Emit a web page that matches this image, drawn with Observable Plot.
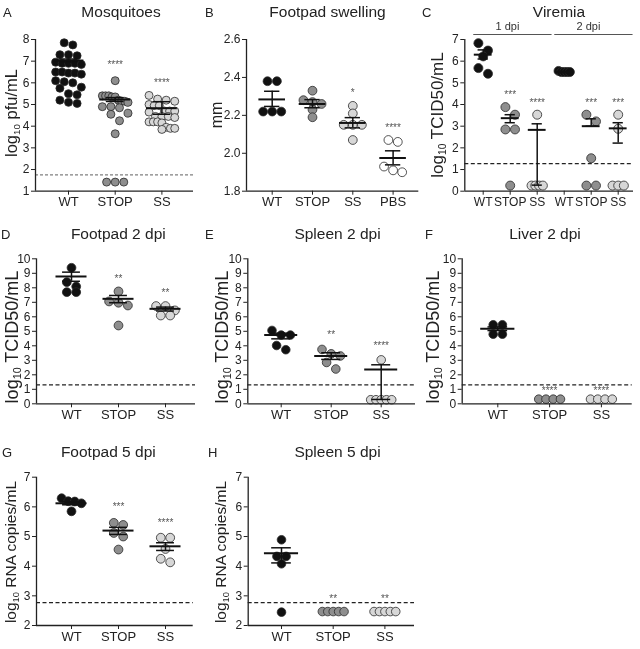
<!DOCTYPE html>
<html>
<head>
<meta charset="utf-8">
<script src="https://cdn.jsdelivr.net/npm/d3@7"></script>
<script src="https://cdn.jsdelivr.net/npm/@observablehq/plot@0.6"></script>
<style>
  body { margin: 0; background: #fff; }
  #fig { position: relative; width: 640px; height: 649px; overflow: hidden; filter: grayscale(1);
         font-family: 'Liberation Sans', Arial, Helvetica, sans-serif; color: #222; background: #fff; }
  .cell { position: absolute; }
  .cell svg { overflow: visible; }
  .title { position: absolute; transform: translate(-50%, -50%); font-size: 15.5px; line-height: 1; white-space: nowrap; }
  .letter { position: absolute; transform: translateY(-50%); font-size: 13px; line-height: 1; }
  .ylab { position: absolute; transform: translate(-50%, -50%) rotate(-90deg); white-space: nowrap; line-height: 1; }
  .ylab sub { font-size: 0.6em; vertical-align: -0.3em; line-height: 0; }
  .cell svg g[aria-label="x-axis tick label"] text,
  .cell svg g[aria-label="x-axis"] text { font-size: 13px; }
  .cell.tight svg g[aria-label="x-axis tick label"] text,
  .cell.tight svg g[aria-label="x-axis"] text { font-size: 12px; }
  .cell svg g[aria-label="y-axis tick label"] text,
  .cell svg g[aria-label="y-axis"] text { font-size: 12px; }
</style>
</head>
<body>
<div id="fig"></div>
<script>
// ---------------- DATA ----------------
// A: Mosquitoes (log10 pfu/mL)
const mosqLabels = ["WT", "STOP", "SS"];
const mosqWT = [7.85, 7.75, 7.3, 7.3, 7.25, 6.95, 6.9, 6.9, 6.85, 6.9, 6.5, 6.45, 6.45, 6.4, 6.5, 6.1, 6.0, 6.05, 5.75, 5.8, 5.5, 5.45, 5.2, 5.05, 5.1];
const mosqSTOP = [6.1, 5.4, 5.35, 5.4, 5.35, 5.4, 5.15, 5.2, 5.15, 5.1, 4.9, 4.85, 4.9, 4.6, 4.55, 4.25, 3.65, 1.42, 1.42, 1.42];
const mosqSS = [5.42, 5.25, 5.2, 5.15, 5.0, 4.95, 4.95, 4.7, 4.7, 4.65, 4.7, 4.45, 4.45, 4.45, 4.4, 4.2, 4.2, 4.15, 4.2, 3.95, 3.9, 3.85, 3.9];
const mosqMean = [7.03, 5.23, 4.83];
const mosqUpper = [7.1, 5.32, 5.13];
const mosqLower = [6.96, 5.14, 4.55];
const mosqStars = ["", "****", "****"];
const mosqStarY = [null, 6.92, 6.1];
const mosqLOD = 1.75;
const mosqTicks = [1, 2, 3, 4, 5, 6, 7, 8];

// B: Footpad swelling (mm)
const swellLabels = ["WT", "STOP", "SS", "PBS"];
const swellWT = [2.38, 2.38, 2.22, 2.22, 2.22];
const swellSTOP = [2.33, 2.28, 2.27, 2.26, 2.23, 2.19];
const swellSS = [2.25, 2.21, 2.15, 2.15, 2.15, 2.07];
const swellPBS = [2.07, 2.06, 1.93, 1.91, 1.9];
const swellMean = [2.284, 2.26, 2.16, 1.975];
const swellUpper = [2.327, 2.283, 2.188, 2.013];
const swellLower = [2.247, 2.24, 2.134, 1.939];
const swellStars = ["", "", "*", "****"];
const swellStarY = [null, null, 2.33, 2.146];
const swellTicks = [1.8, 2.0, 2.2, 2.4, 2.6];

// C: Viremia (log10 TCID50/mL), 1 dpi and 2 dpi
const viremiaLabels = ["WT", "STOP", "SS", "WT", "STOP", "SS"];
const viremiaDays = ["1 dpi", "2 dpi"];
const viremiaWT1 = [6.83, 6.49, 6.22, 5.68, 5.42];
const viremiaSTOP1 = [3.88, 3.53, 2.85, 2.85, 0.26];
const viremiaSS1 = [3.53, 0.26, 0.26, 0.26, 0.26];
const viremiaWT2 = [5.55, 5.5, 5.5, 5.5, 5.5];
const viremiaSTOP2 = [3.53, 3.22, 1.52, 0.26, 0.26];
const viremiaSS2 = [3.53, 2.88, 0.26, 0.26, 0.26];
const viremiaMean = [6.3, 3.37, 2.83, 5.5, 3.0, 2.9];
const viremiaUpper = [6.52, 3.53, 3.11, 5.53, 3.34, 3.16];
const viremiaLower = [6.1, 3.16, 0.28, 5.47, 3.0, 2.22];
const viremiaStars = ["", "***", "****", "", "***", "***"];
const viremiaStarY = [null, 4.54, 4.19, null, 4.19, 4.19];
const viremiaLOD = 1.27;
const viremiaTicks = [0, 1, 2, 3, 4, 5, 6, 7];

// D: Footpad 2 dpi (log10 TCID50/mL)
const fp2Labels = ["WT", "STOP", "SS"];
const fp2WT = [9.38, 8.39, 8.09, 7.7, 7.7];
const fp2STOP = [7.75, 7.06, 6.97, 6.78, 5.4];
const fp2SS = [6.74, 6.74, 6.44, 6.09, 6.09];
const fp2Mean = [8.78, 7.24, 6.55];
const fp2Upper = [9.08, 7.47, 6.67];
const fp2Lower = [8.45, 6.97, 6.4];
const fp2Stars = ["", "**", "**"];
const fp2StarY = [null, 8.78, 7.82];

// E: Spleen 2 dpi (log10 TCID50/mL)
const sp2Labels = ["WT", "STOP", "SS"];
const sp2WT = [5.06, 4.74, 4.74, 4.02, 3.73];
const sp2STOP = [3.75, 3.45, 3.3, 2.85, 2.4];
const sp2SS = [3.03, 0.28, 0.28, 0.28, 0.28, 0.28];
const sp2Mean = [4.74, 3.29, 2.37];
const sp2Upper = [4.87, 3.52, 2.69];
const sp2Lower = [4.48, 3.06, 0.3];
const sp2Stars = ["", "**", "****"];
const sp2StarY = [null, 4.9, 4.14];

// F: Liver 2 dpi (log10 TCID50/mL)
const lv2Labels = ["WT", "STOP", "SS"];
const lv2WT = [5.45, 5.45, 4.8, 4.8];
const lv2STOP = [0.32, 0.32, 0.32, 0.32];
const lv2SS = [0.32, 0.32, 0.32, 0.32];
const lv2Mean = [5.17, null, null];
const lv2Upper = [5.3, null, null];
const lv2Lower = [5.05, null, null];
const lv2Stars = ["", "****", "****"];
const lv2StarY = [null, 1.03, 1.03];

const tcidLOD = 1.3;
const tcidTicks = [0, 1, 2, 3, 4, 5, 6, 7, 8, 9, 10];

// G: Footpad 5 dpi (log10 RNA copies/mL)
const fp5Labels = ["WT", "STOP", "SS"];
const fp5WT = [6.29, 6.19, 6.18, 6.12, 5.85];
const fp5STOP = [5.46, 5.39, 5.12, 5.0, 4.56];
const fp5SS = [4.96, 4.96, 4.58, 4.25, 4.13];
const fp5Mean = [6.12, 5.2, 4.67];
const fp5Upper = [6.17, 5.31, 4.79];
const fp5Lower = [6.07, 5.07, 4.53];
const fp5Stars = ["", "***", "****"];
const fp5StarY = [null, 6.08, 5.54];

// H: Spleen 5 dpi (log10 RNA copies/mL)
const sp5Labels = ["WT", "STOP", "SS"];
const sp5WT = [4.89, 4.33, 4.33, 4.08, 2.45];
const sp5STOP = [2.47, 2.47, 2.47, 2.47, 2.47];
const sp5SS = [2.47, 2.47, 2.47, 2.47, 2.47];
const sp5Mean = [4.44, null, null];
const sp5Upper = [4.62, null, null];
const sp5Lower = [4.11, null, null];
const sp5Stars = ["", "**", "**"];
const sp5StarY = [null, 2.98, 2.98];

const rnaLOD = 2.77;
const rnaTicks = [2, 3, 4, 5, 6, 7];

// ---------------- STYLE ----------------
const groupDomain = ["WT", "STOP", "SS", "PBS"];
const groupFill = ["#111111", "#8e8e8e", "#d7d7d7", "#ffffff"];
const FONT = "'Liberation Sans', Arial, Helvetica, sans-serif";

// Prism-like scatter layout: points in a row (similar values) are placed side by side
function swarm(values, center, unit, pxPerVal, r, spanFrac) {
  const d = 2 * r;
  const order = values.map((v, k) => ({v, k})).sort((a, b) => b.v - a.v || a.k - b.k);
  const rows = [];
  let cur = null;
  for (const p of order) {
    if (cur && (cur.top - p.v) * pxPerVal < 0.85 * d) cur.items.push(p);
    else { cur = {top: p.v, items: [p]}; rows.push(cur); }
  }
  const out = [];
  const maxSpan = spanFrac * unit;
  for (const row of rows) {
    const n = row.items.length;
    const step = n > 1 ? Math.min(d + 0.6, maxSpan / (n - 1)) : 0;
    row.items.forEach((p, j) => out.push({v: p.v, px: center + ((j - (n - 1) / 2) * step) / unit}));
  }
  return out;
}

function makePanel(p) {
  const unit = p.unit;
  const lo = (p.xL - p.x0) / unit, hi = (p.xR - p.x0) / unit;
  const pxPerVal = (p.yB - p.yT) / (p.ymax - p.ymin);
  const pos = p.labels.map((_, i) => i);
  const pts = [];
  p.values.forEach((vals, i) =>
    swarm(vals, pos[i], unit, pxPerVal, p.r, p.span).forEach(q => pts.push({...q, group: p.labels[i]})));
  const summ = p.labels.map((g, i) => ({
    i: pos[i], group: g, mean: p.mean[i], up: p.upper[i], low: p.lower[i],
    star: p.stars[i], starY: p.starY[i]
  }));
  const withMean = summ.filter(s => s.mean != null);
  const marks = [
    Plot.ruleY([p.lod], {stroke: p.lodColor, strokeDasharray: p.lodDash, strokeWidth: 1.3}),
    Plot.dot(pts, {x: "px", y: "v", r: p.r, fill: "group", stroke: "#2a2a2a", strokeWidth: 0.8}),
    Plot.ruleX(withMean, {x: "i", y1: "low", y2: "up", stroke: "#111", strokeWidth: 1.5}),
    Plot.ruleY(withMean, {x1: d => d.i - 0.19, x2: d => d.i + 0.19, y: "up", stroke: "#111", strokeWidth: 1.5}),
    Plot.ruleY(withMean, {x1: d => d.i - 0.19, x2: d => d.i + 0.19, y: "low", stroke: "#111", strokeWidth: 1.5}),
    Plot.ruleY(withMean, {x1: d => d.i - 0.33, x2: d => d.i + 0.33, y: "mean", stroke: "#111", strokeWidth: 2}),
    Plot.text(summ.filter(s => s.star), {x: "i", y: "starY", text: "star", fontSize: 10, fill: "#555", dy: 2}),
    Plot.ruleX([lo], {stroke: "#222", strokeWidth: 1.3}),
    Plot.ruleY([p.ymin], {stroke: "#222", strokeWidth: 1.3})
  ];
  if (p.extra) marks.push(...p.extra(lo, hi));
  const chart = Plot.plot({
    width: p.w, height: p.h,
    marginLeft: p.xL - p.left, marginRight: p.left + p.w - p.xR,
    marginTop: p.yT - p.top, marginBottom: p.top + p.h - p.yB,
    x: {domain: [lo, hi], ticks: pos, tickFormat: d => p.labels[Math.round(d)], tickSize: 4, tickPadding: 2, label: null},
    y: {domain: [p.ymin, p.ymax], ticks: p.yticks, tickFormat: p.yfmt || (d => String(d)), tickSize: 4, tickPadding: 2, label: null},
    color: {type: "ordinal", domain: groupDomain, range: groupFill},
    style: {fontFamily: FONT, fontSize: "12px", color: "#222", background: "transparent", overflow: "visible"},
    marks
  });
  const cell = document.createElement("div");
  cell.className = "cell" + (p.tight ? " tight" : "");
  cell.style.left = p.left + "px";
  cell.style.top = p.top + "px";
  cell.appendChild(chart);
  fig.appendChild(cell);

  const t = document.createElement("div");
  t.className = "title"; t.textContent = p.title;
  t.style.left = p.titleX + "px"; t.style.top = p.titleY + "px";
  fig.appendChild(t);
  const l = document.createElement("div");
  l.className = "letter"; l.textContent = p.letter;
  l.style.left = p.letterX + "px"; l.style.top = p.titleY + "px";
  fig.appendChild(l);
  const y = document.createElement("div");
  y.className = "ylab"; y.innerHTML = p.ylabel;
  y.style.left = p.ylabX + "px"; y.style.top = p.ylabY + "px"; y.style.fontSize = p.ylabSize + "px";
  fig.appendChild(y);
}

const fig = document.getElementById("fig");
const TCID = "log<sub>10</sub> TCID50/mL";
const RNA = "log<sub>10</sub> RNA copies/mL";

const panels = [
  {letter: "A", title: "Mosquitoes", ylabel: "log<sub>10</sub> pfu/mL",
   labels: mosqLabels, values: [mosqWT, mosqSTOP, mosqSS], mean: mosqMean, upper: mosqUpper, lower: mosqLower,
   stars: mosqStars, starY: mosqStarY, lod: mosqLOD, lodColor: "#808080", lodDash: "3,2",
   ymin: 1, ymax: 8, yticks: mosqTicks, r: 4, span: 0.55,
   left: 0, top: 0, w: 210, h: 215, xL: 35, xR: 193, yT: 39, yB: 190.7, x0: 68, unit: 46.7,
   titleX: 121, titleY: 12, letterX: 3, ylabX: 10.5, ylabY: 113, ylabSize: 16.5},
  {letter: "B", title: "Footpad swelling", ylabel: "mm",
   labels: swellLabels, values: [swellWT, swellSTOP, swellSS, swellPBS], mean: swellMean, upper: swellUpper, lower: swellLower,
   stars: swellStars, starY: swellStarY, lod: null, lodColor: "none", lodDash: null,
   ymin: 1.8, ymax: 2.6, yticks: swellTicks, yfmt: d3.format(".1f"), r: 4.4, span: 0.45,
   left: 210, top: 0, w: 210, h: 215, xL: 246, xR: 418.3, yT: 39, yB: 190.7, x0: 271.7, unit: 40.3,
   titleX: 327.5, titleY: 12, letterX: 205, ylabX: 216.5, ylabY: 115, ylabSize: 16},
  {letter: "C", title: "Viremia", ylabel: TCID, tight: true,
   labels: viremiaLabels, values: [viremiaWT1, viremiaSTOP1, viremiaSS1, viremiaWT2, viremiaSTOP2, viremiaSS2],
   mean: viremiaMean, upper: viremiaUpper, lower: viremiaLower,
   stars: viremiaStars, starY: viremiaStarY, lod: viremiaLOD, lodColor: "#222", lodDash: "4,2.5",
   ymin: 0, ymax: 7, yticks: viremiaTicks, r: 4.5, span: 0.42,
   left: 420, top: 0, w: 220, h: 215, xL: 464.3, xR: 633, yT: 39, yB: 190.7, x0: 482.7, unit: 27,
   titleX: 559, titleY: 12, letterX: 422, ylabX: 437, ylabY: 115, ylabSize: 17,
   extra: () => {
     const days = viremiaDays.map((label, k) => ({label, from: 3 * k, to: 3 * k + 2}));
     return [
       Plot.ruleY(days, {x1: d => d.from - 0.35, x2: d => d.to + 0.55, y: 7.23, stroke: "#555", strokeWidth: 1}),
       Plot.text(days, {x: d => (d.from + d.to) / 2 - 0.1, y: 7.6, text: "label", fontSize: 11, fill: "#333"})
     ];
   }},
  {letter: "D", title: "Footpad 2 dpi", ylabel: TCID,
   labels: fp2Labels, values: [fp2WT, fp2STOP, fp2SS], mean: fp2Mean, upper: fp2Upper, lower: fp2Lower,
   stars: fp2Stars, starY: fp2StarY, lod: tcidLOD, lodColor: "#222", lodDash: "4,2.5",
   ymin: 0, ymax: 10, yticks: tcidTicks, r: 4.4, span: 0.42,
   left: 0, top: 215, w: 210, h: 215, xL: 36, xR: 195, yT: 258.3, yB: 403.3, x0: 71, unit: 47,
   titleX: 118.3, titleY: 233.5, letterX: 1, ylabX: 11.5, ylabY: 337, ylabSize: 18},
  {letter: "E", title: "Spleen 2 dpi", ylabel: TCID,
   labels: sp2Labels, values: [sp2WT, sp2STOP, sp2SS], mean: sp2Mean, upper: sp2Upper, lower: sp2Lower,
   stars: sp2Stars, starY: sp2StarY, lod: tcidLOD, lodColor: "#222", lodDash: "4,2.5",
   ymin: 0, ymax: 10, yticks: tcidTicks, r: 4.3, span: 0.42,
   left: 210, top: 215, w: 210, h: 215, xL: 247.3, xR: 415, yT: 258.3, yB: 403.3, x0: 280.7, unit: 50,
   titleX: 337.5, titleY: 233.5, letterX: 205, ylabX: 221.5, ylabY: 337, ylabSize: 18},
  {letter: "F", title: "Liver 2 dpi", ylabel: TCID,
   labels: lv2Labels, values: [lv2WT, lv2STOP, lv2SS], mean: lv2Mean, upper: lv2Upper, lower: lv2Lower,
   stars: lv2Stars, starY: lv2StarY, lod: tcidLOD, lodColor: "#222", lodDash: "4,2.5",
   ymin: 0, ymax: 10, yticks: tcidTicks, r: 4.3, span: 0.42,
   left: 420, top: 215, w: 220, h: 215, xL: 461.7, xR: 631.7, yT: 258.3, yB: 403.3, x0: 497.3, unit: 51.8,
   titleX: 545, titleY: 233.5, letterX: 425, ylabX: 432.5, ylabY: 337, ylabSize: 18},
  {letter: "G", title: "Footpad 5 dpi", ylabel: RNA,
   labels: fp5Labels, values: [fp5WT, fp5STOP, fp5SS], mean: fp5Mean, upper: fp5Upper, lower: fp5Lower,
   stars: fp5Stars, starY: fp5StarY, lod: rnaLOD, lodColor: "#222", lodDash: "4,2.5",
   ymin: 2, ymax: 7, yticks: rnaTicks, r: 4.4, span: 0.42,
   left: 0, top: 430, w: 210, h: 219, xL: 36, xR: 192.7, yT: 476.7, yB: 625, x0: 71, unit: 47,
   titleX: 108.3, titleY: 451.5, letterX: 2, ylabX: 11, ylabY: 552, ylabSize: 15.5},
  {letter: "H", title: "Spleen 5 dpi", ylabel: RNA,
   labels: sp5Labels, values: [sp5WT, sp5STOP, sp5SS], mean: sp5Mean, upper: sp5Upper, lower: sp5Lower,
   stars: sp5Stars, starY: sp5StarY, lod: rnaLOD, lodColor: "#222", lodDash: "4,2.5",
   ymin: 2, ymax: 7, yticks: rnaTicks, r: 4.3, span: 0.42,
   left: 210, top: 430, w: 210, h: 219, xL: 247.7, xR: 414, yT: 476.7, yB: 625, x0: 281, unit: 51.7,
   titleX: 337.5, titleY: 451.5, letterX: 208, ylabX: 221, ylabY: 552, ylabSize: 15.5}
];

for (const p of panels) {
  if (p.lod == null) { p.lod = p.ymin; p.lodColor = "none"; }
  makePanel(p);
}
</script>
</body>
</html>
